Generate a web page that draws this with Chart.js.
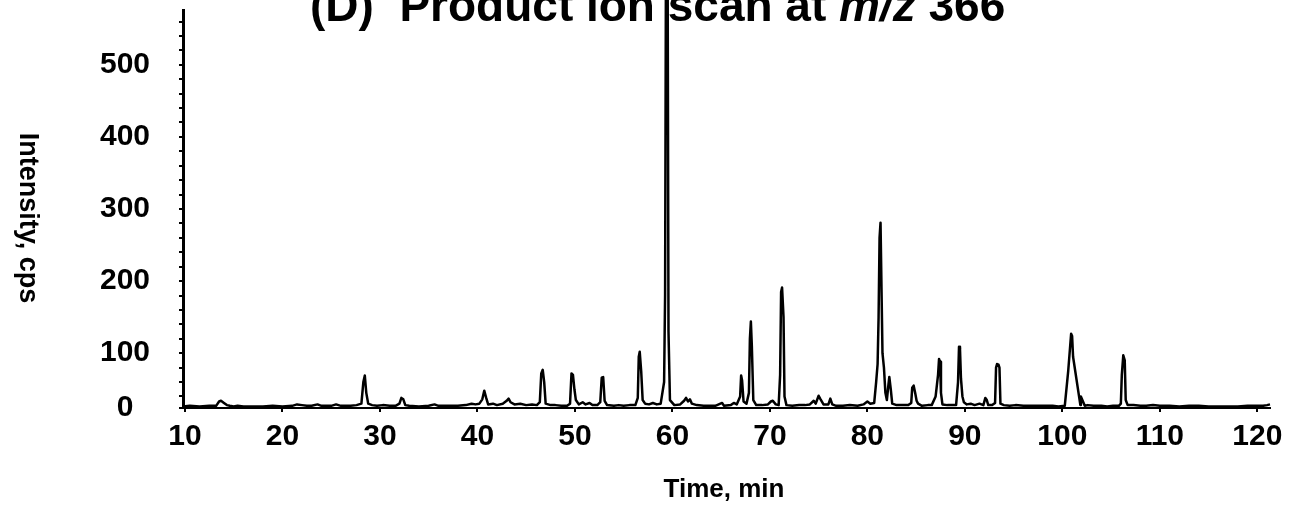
<!DOCTYPE html>
<html>
<head>
<meta charset="utf-8">
<script src="https://cdn.jsdelivr.net/npm/chart.js@4.4.1/dist/chart.umd.min.js"></script>
<style>
  html, body { margin: 0; padding: 0; background: #fff; }
  #chartContainer { width: 1289px; height: 513px; }
</style>
</head>
<body>
<div id="chartContainer"><canvas id="chartCanvas" width="1289" height="513"></canvas></div>
<script>
// Retention time (min) and intensity (cps)
const timeMin = [
  9.8, 10.5, 11.5, 12.5, 13.2, 13.5, 13.7, 14.0, 14.3, 14.6, 15.0, 15.4, 16, 17, 18, 19, 20, 21, 21.5, 22, 22.5, 23, 23.6, 24, 25, 25.5, 26, 27, 27.6,
  28.1, 28.3, 28.45, 28.6, 28.8, 29.2, 29.7, 30.3, 31, 31.6, 32.0, 32.2, 32.4, 32.6, 33, 34, 35, 35.6, 36, 37, 38, 38.8, 39.4, 39.8,
  40.2, 40.5, 40.7, 40.9, 41.1, 41.6, 42, 42.6, 43.0, 43.2, 43.4, 43.8, 44.4, 45, 45.6, 46.1, 46.4, 46.55, 46.7, 46.85, 47.0, 47.5, 48, 48.6, 49.2,
  49.5, 49.65, 49.8, 49.95, 50.1, 50.4, 50.8, 51.1, 51.5, 51.8, 52.3, 52.6, 52.75, 52.9, 53.05, 53.3, 54, 54.5, 55, 55.6, 56.2, 56.45, 56.55, 56.65, 56.8, 56.95, 57.2, 57.6, 58.0, 58.4, 58.8,
  59.15, 59.25, 59.35, 59.5, 59.6, 59.75, 60.2, 60.8, 61.2, 61.4, 61.6, 61.8, 62.0, 62.5, 63.2, 63.8, 64.4, 65.1, 65.3, 66.0, 66.3, 66.6, 66.95, 67.05, 67.15, 67.3, 67.6,
  67.85, 67.95, 68.05, 68.15, 68.3, 68.6, 69.2, 69.8, 70.1, 70.3, 70.6, 70.9, 71.05, 71.15, 71.25, 71.4, 71.5, 71.7, 72.3, 73, 73.6, 74.1, 74.5, 74.7, 75.0, 75.2, 75.5, 76.0, 76.2, 76.4, 76.8, 77.5, 78.2, 79, 79.6, 80.0, 80.3, 80.7,
  80.9, 81.05, 81.15, 81.25, 81.35, 81.45, 81.55, 81.7, 81.85, 82.0, 82.15, 82.25, 82.4, 82.55, 83, 83.6, 84.2, 84.5, 84.6, 84.75, 84.9, 85.05, 85.2, 85.6, 86.2, 86.6, 87.0, 87.1, 87.25, 87.35, 87.45, 87.55, 87.7, 88.2, 88.7, 89.1,
  89.3, 89.4, 89.5, 89.6, 89.75, 89.9, 90.2, 90.6, 91.0, 91.5, 91.9, 92.1, 92.25, 92.4, 92.8, 93.1, 93.2, 93.3, 93.45, 93.55, 93.65, 94.0, 94.6, 95.2, 96, 97, 98, 99, 99.6,
  100.25, 100.6, 100.9, 101.0, 101.1, 101.85, 101.9, 102.3, 102.6, 103.2, 104, 104.6, 105.2, 105.8, 106.0, 106.1, 106.25, 106.4, 106.5, 106.7, 107.3, 108, 108.6, 109.3, 110, 111, 112, 113, 114, 115, 116, 117, 118, 119, 120, 120.6, 121.0, 121.3
];
const intensityCps = [
  26, 27, 26, 27, 27, 33, 34, 31, 28, 27, 26, 27, 26, 26, 26, 27, 26, 27, 29, 28, 27, 27, 29, 27, 27, 29, 27, 27, 28,
  30, 60, 69, 45, 30, 28, 27, 28, 27, 27, 30, 38, 36, 28, 27, 26, 27, 29, 27, 27, 27, 28, 30, 29,
  30, 36, 48, 38, 29, 30, 28, 30, 34, 37, 32, 29, 30, 28, 29, 28, 32, 72, 77, 60, 30, 28, 28, 27, 27,
  30, 72, 70, 50, 35, 29, 32, 29, 31, 28, 28, 32, 66, 67, 34, 28, 27, 28, 27, 28, 28, 38, 95, 102, 75, 35, 30, 29, 31, 29, 30,
  60, 180, 700, 700, 130, 35, 28, 29, 34, 38, 33, 36, 30, 28, 27, 27, 27, 31, 27, 28, 31, 29, 40, 69, 62, 33, 30,
  45, 120, 144, 110, 35, 28, 28, 29, 33, 34, 29, 28, 70, 185, 191, 150, 40, 28, 27, 28, 28, 29, 34, 30, 41, 36, 29, 29, 37, 29, 27, 27, 28, 27, 29, 33, 30, 31,
  60, 85, 150, 260, 281, 190, 100, 80, 45, 35, 55, 67, 50, 30, 28, 28, 28, 31, 52, 55, 45, 34, 30, 27, 28, 28, 40, 52, 70, 92, 88, 45, 29, 28, 28, 28,
  60, 109, 106, 65, 40, 32, 29, 30, 28, 30, 28, 38, 35, 28, 28, 31, 80, 85, 84, 80, 30, 28, 27, 28, 27, 27, 27, 27, 26,
  27, 75, 127, 124, 95, 28, 40, 27, 28, 27, 27, 26, 27, 27, 30, 70, 97, 90, 35, 28, 28, 27, 27, 28, 27, 27, 26, 27, 27, 26, 26, 26, 26, 27, 27, 27, 28, 29
];

const xTickValues = [10, 20, 30, 40, 50, 60, 70, 80, 90, 100, 110, 120];
const yTickValues = [100, 200, 300, 400, 500];
const yBottom = 24;   // axis floor, labelled "0" in the original
const yTop = 576;

const titleParts = [
  { text: '(D)  Product ion scan at ', italic: false },
  { text: 'm/z', italic: true },
  { text: ' 366', italic: false }
];
const xTitle = 'Time, min';
const yTitle = 'Intensity, cps';

const FONT = '"Liberation Sans", Arial, Helvetica, sans-serif';

const points = timeMin.map((t, i) => ({ x: t, y: intensityCps[i] }));

// Titles drawn by hand: the y title reads top-to-bottom and the title has italic m/z
const textPlugin = {
  id: 'textPlugin',
  afterDraw(chart) {
    const ctx = chart.ctx;
    ctx.save();
    ctx.fillStyle = '#000';

    // main title (cropped at top in original)
    ctx.textBaseline = 'alphabetic';
    ctx.textAlign = 'left';
    let x = 310;
    titleParts.forEach(p => {
      ctx.font = (p.italic ? 'italic ' : '') + 'bold 46px ' + FONT;
      ctx.fillText(p.text, x, 21);
      x += ctx.measureText(p.text).width;
    });

    // x axis title
    ctx.font = 'bold 26px ' + FONT;
    ctx.textAlign = 'center';
    ctx.textBaseline = 'middle';
    ctx.fillText(xTitle, 724, 490);

    // y axis title, rotated clockwise
    ctx.font = 'bold 27px ' + FONT;
    ctx.translate(27, 218);
    ctx.rotate(Math.PI / 2);
    ctx.fillText(yTitle, 0, 0);
    ctx.restore();
  }
};

const ctx = document.getElementById('chartCanvas').getContext('2d');

new Chart(ctx, {
  type: 'line',
  data: {
    datasets: [{
      data: points,
      borderColor: '#000000',
      borderWidth: 2.5,
      borderJoinStyle: 'round',
      pointRadius: 0,
      tension: 0,
      fill: false,
      clip: false
    }]
  },
  options: {
    responsive: false,
    animation: false,
    events: [],
    layout: { padding: { top: 10, right: 19, left: 0, bottom: 0 } },
    plugins: {
      legend: { display: false },
      tooltip: { enabled: false },
      title: { display: false }
    },
    scales: {
      x: {
        type: 'linear',
        min: 9.8,
        max: 121.3,
        afterBuildTicks: axis => {
          axis.ticks = xTickValues.map(v => ({ value: v }));
        },
        afterFit: scale => {
          scale.height = 105;
          scale.paddingLeft = 0;
          scale.paddingRight = 0;
        },
        ticks: {
          autoSkip: false,
          maxRotation: 0,
          color: '#000',
          padding: 7,
          font: { family: FONT, size: 30, weight: 'bold' }
        },
        grid: {
          drawOnChartArea: false,
          tickLength: 4,
          color: '#000',
          lineWidth: 2
        },
        border: { display: true, color: '#000', width: 2 }
      },
      y: {
        type: 'linear',
        min: yBottom,
        max: yTop,
        afterBuildTicks: axis => {
          const ticks = [{ value: yBottom }];
          // minor dots along the axis every 20 cps
          for (let v = 40; v < yTop; v += 20) ticks.push({ value: v });
          axis.ticks = ticks;
        },
        afterFit: scale => {
          scale.width = 183;
          scale.paddingTop = 0;
          scale.paddingBottom = 0;
        },
        ticks: {
          autoSkip: false,
          color: '#000',
          padding: 29,
          font: { family: FONT, size: 30, weight: 'bold' },
          callback: value => {
            if (value === yBottom) return '0  ';
            return yTickValues.includes(value) ? String(value) : '';
          }
        },
        grid: {
          drawOnChartArea: false,
          tickLength: 4,
          color: '#000',
          lineWidth: 2
        },
        border: { display: true, color: '#000', width: 3 }
      }
    }
  },
  plugins: [textPlugin]
});
</script>
</body>
</html>
